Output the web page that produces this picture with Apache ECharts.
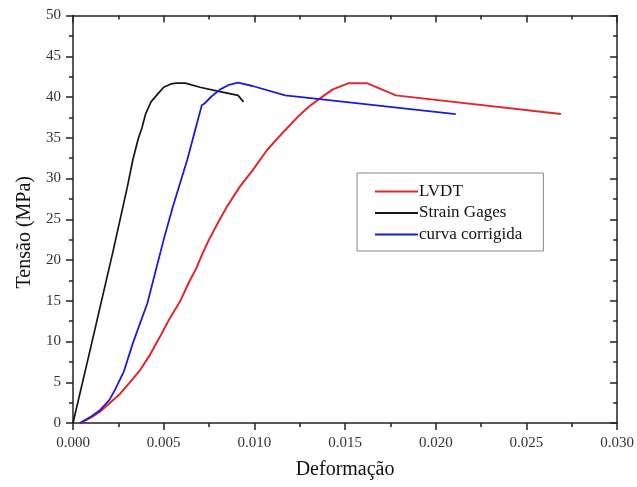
<!DOCTYPE html>
<html>
<head>
<meta charset="utf-8">
<script src="https://cdn.jsdelivr.net/npm/echarts@6/dist/echarts.min.js"></script>
<style>html,body{margin:0;padding:0;background:#fff}#c{width:637px;height:487px}</style>
</head>
<body>
<div id="c"></div>
<script>
var seriesNames = ['LVDT', 'Strain Gages', 'curva corrigida'];
var xTicks = [0, 0.005, 0.010, 0.015, 0.020, 0.025, 0.030];
var yTicks = [0, 5, 10, 15, 20, 25, 30, 35, 40, 45, 50];

var lvdt = [[0.0004,0],[0.0010,0.7],[0.0015,1.4],[0.0020,2.4],[0.0026,3.6],[0.0031,4.9],[0.0037,6.5],[0.0042,8.2],[0.0048,10.6],[0.0053,12.7],[0.0059,14.9],[0.00595,14.7],[0.0064,17.3],[0.0068,19.0],[0.0071,20.6],[0.0075,22.5],[0.0080,24.6],[0.0085,26.6],[0.0092,29.0],[0.0099,31.0],[0.0107,33.5],[0.0116,35.7],[0.0125,37.8],[0.0130,38.8],[0.0136,39.8],[0.0143,40.9],[0.0152,41.7],[0.0162,41.7],[0.0178,40.2],[0.0269,37.9]];
var strainGages = [[0,0],[0.0010,9.5],[0.0022,21.0],[0.0030,29.0],[0.0033,32.3],[0.0036,34.9],[0.0038,36.2],[0.0040,37.9],[0.0043,39.4],[0.0047,40.45],[0.0050,41.2],[0.0054,41.6],[0.0057,41.7],[0.0062,41.7],[0.0070,41.2],[0.0081,40.65],[0.0091,40.2],[0.0094,39.4]];
var curvaCorrigida = [[0.0004,0],[0.0010,0.8],[0.0015,1.6],[0.0020,2.8],[0.0023,4.0],[0.0028,6.3],[0.0033,9.8],[0.0041,14.7],[0.0050,22.5],[0.0055,26.5],[0.0063,32.3],[0.0071,39.0],[0.00725,39.2],[0.0076,40.0],[0.0081,40.9],[0.0086,41.5],[0.0091,41.75],[0.0099,41.35],[0.0117,40.2],[0.0136,39.75],[0.0211,37.9]];

var FONT = 'Liberation Serif';
var axisColor = '#222';

function xAxisDef(pos, withLabels) {
  return {
    type: 'value', position: pos, min: xTicks[0], max: xTicks[xTicks.length-1],
    interval: xTicks[1]-xTicks[0],
    axisLine: {show: true, onZero: false, lineStyle: {color: axisColor, width: 1.5}},
    axisTick: {show: true, inside: !withLabels, length: 7, lineStyle: {color: axisColor, width: 1.5}},
    minorTick: {show: true, splitNumber: 2, length: 4, lineStyle: {color: axisColor, width: 1.5}},
    splitLine: {show: false},
    axisLabel: {show: withLabels, margin: 13, fontFamily: FONT, fontSize: 15, color: '#333',
      formatter: function(v){ return v.toFixed(3); }},
    name: withLabels ? 'Deformação' : '',
    nameLocation: 'middle', nameGap: 37,
    nameTextStyle: {fontFamily: FONT, fontSize: 20, color: '#111'}
  };
}
function yAxisDef(pos, withLabels) {
  return {
    type: 'value', position: pos, min: yTicks[0], max: yTicks[yTicks.length-1],
    interval: yTicks[1]-yTicks[0],
    axisLine: {show: true, onZero: false, lineStyle: {color: axisColor, width: 1.5}},
    axisTick: {show: true, inside: !withLabels, length: 7, lineStyle: {color: axisColor, width: 1.5}},
    minorTick: {show: true, splitNumber: 2, length: 4, lineStyle: {color: axisColor, width: 1.5}},
    splitLine: {show: false},
    axisLabel: {show: withLabels, margin: 12, fontFamily: FONT, fontSize: 15, color: '#333'},
    name: withLabels ? 'Tensão (MPa)' : '',
    nameLocation: 'middle', nameGap: 36, nameRotate: 90,
    nameTextStyle: {fontFamily: FONT, fontSize: 20, color: '#111', padding: [0, 26, 0, 0]}
  };
}

var chart = echarts.init(document.getElementById('c'), null, {renderer: 'canvas'});
chart.setOption({
  animation: false,
  backgroundColor: '#fff',
  grid: {left: 73, right: 17.5, top: 15.5, bottom: 64},
  xAxis: [xAxisDef('bottom', true), xAxisDef('top', false)],
  yAxis: [yAxisDef('left', true), yAxisDef('right', false)],
  legend: {
    orient: 'vertical', left: 357, top: 173,
    data: seriesNames,
    icon: 'rect', itemWidth: 43, itemHeight: 2, itemGap: 4.5,
    padding: [10, 21, 8, 18],
    borderColor: '#888', borderWidth: 1, backgroundColor: '#fff',
    textStyle: {fontFamily: FONT, fontSize: 17, color: '#111', padding: [0, 0, 0, -4]}
  },
  series: [
    {name: seriesNames[0], type: 'line', data: lvdt, showSymbol: false, symbol: 'none',
     lineStyle: {color: '#e3262b', width: 2}, itemStyle: {color: '#e3262b'}},
    {name: seriesNames[1], type: 'line', data: strainGages, showSymbol: false, symbol: 'none',
     lineStyle: {color: '#151515', width: 1.7}, itemStyle: {color: '#151515'}},
    {name: seriesNames[2], type: 'line', data: curvaCorrigida, showSymbol: false, symbol: 'none',
     lineStyle: {color: '#1c1cd8', width: 1.8}, itemStyle: {color: '#1c1cd8'}}
  ]
});
</script>
</body>
</html>
